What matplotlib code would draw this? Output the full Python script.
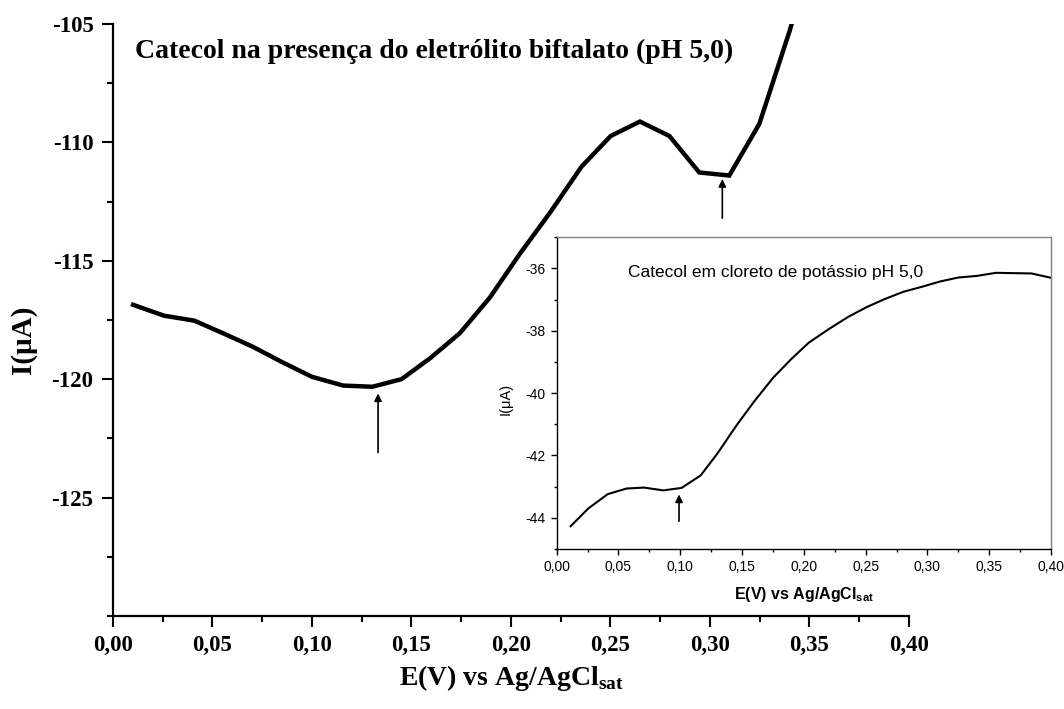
import matplotlib
matplotlib.use("Agg")
import matplotlib.pyplot as plt
from matplotlib.ticker import MultipleLocator, FuncFormatter


# curva principal: eletrólito biftalato (pH 5,0)
E_BIFT = [0.0101, 0.0257, 0.0409, 0.0550, 0.0700, 0.0850, 0.1000, 0.1157,
          0.1303, 0.1450, 0.1596, 0.1744, 0.1894, 0.2045, 0.2196, 0.2355,
          0.2501, 0.2648, 0.2796, 0.2946, 0.3097, 0.3248, 0.3400, 0.3550]
I_BIFT = [-116.86, -117.32, -117.53, -118.05, -118.62, -119.28, -119.90,
          -120.27, -120.32, -120.00, -119.10, -118.05, -116.55, -114.70,
          -112.97, -111.02, -109.73, -109.12, -109.73, -111.27, -111.40,
          -109.22, -105.30, -101.00]

# inset: cloreto de potássio (pH 5,0)
E_KCL = [0.0113, 0.0256, 0.0413, 0.0566, 0.0706, 0.0863, 0.1011, 0.1165,
         0.1300, 0.1456, 0.1599, 0.1753, 0.1900, 0.2040, 0.2200, 0.2360,
         0.2508, 0.2655, 0.2804, 0.2953, 0.3100, 0.3250, 0.3398, 0.3554,
         0.3700, 0.3843, 0.4000]
I_KCL = [-44.27, -43.70, -43.24, -43.06, -43.03, -43.12, -43.04, -42.64,
         -41.94, -41.03, -40.26, -39.50, -38.90, -38.38, -37.95, -37.55,
         -37.24, -36.98, -36.75, -36.59, -36.42, -36.29, -36.24, -36.14,
         -36.15, -36.16, -36.30]

# setas (E, I_inicio, I_fim)
SETAS_BIFT = [(0.1332, -123.1, -120.6), (0.3062, -113.2, -111.55)]
SETAS_KCL = [(0.0990, -44.11, -43.25)]

SERIF = "Liberation Serif"
SANS = "Liberation Sans"

plt.rcParams["mathtext.fontset"] = "custom"
plt.rcParams["mathtext.bf"] = "Liberation Serif:bold"
plt.rcParams["mathtext.sf"] = "Liberation Sans:bold"


def virgula(fmt):
    return FuncFormatter(lambda v, pos: (fmt % v).replace(".", ","))


def main():
    fig = plt.figure(figsize=(10.64, 7.09), dpi=100)

    # ---- grafico principal ----
    ax = fig.add_axes([0.1062, 0.1312, 0.7481, 0.835])
    ax.plot(E_BIFT, I_BIFT, color="black", lw=3.2, solid_joinstyle="miter")
    ax.set_xlim(0, 0.40)
    ax.set_ylim(-130, -105)
    for s in ["top", "right"]:
        ax.spines[s].set_visible(False)
    for s in ["left", "bottom"]:
        ax.spines[s].set_linewidth(1.6)

    ax.xaxis.set_major_locator(MultipleLocator(0.05))
    ax.xaxis.set_minor_locator(MultipleLocator(0.025))
    ax.set_yticks([-125, -120, -115, -110, -105])
    ax.yaxis.set_minor_locator(MultipleLocator(2.5))
    ax.xaxis.set_major_formatter(virgula("%.2f"))
    ax.yaxis.set_major_formatter(FuncFormatter(lambda v, pos: "%d" % v))
    ax.tick_params(which="major", direction="out", length=8, width=1.5, pad=6)
    ax.tick_params(which="minor", direction="out", length=4.5, width=1.5)
    for lab in ax.get_xticklabels() + ax.get_yticklabels():
        lab.set_fontfamily(SERIF)
        lab.set_fontweight("bold")
        lab.set_fontsize(16.5)

    ax.set_xlabel(r"E(V) vs Ag/AgCl$_{\mathbf{sat}}$", fontfamily=SERIF,
                  fontweight="bold", fontsize=20)
    ax.set_ylabel("I(\u03bcA)", fontfamily=SERIF, fontweight="bold", fontsize=21)
    ax.xaxis.set_label_coords(0.5, -0.08)
    ax.yaxis.set_label_coords(-0.096, 0.466)

    ax.text(0.0276, 0.9426, "Catecol na presença do eletrólito biftalato (pH 5,0)",
            transform=ax.transAxes, fontfamily=SERIF, fontweight="bold",
            fontsize=20, va="baseline", ha="left")

    for e, i0, i1 in SETAS_BIFT:
        ax.annotate("", xy=(e, i1), xytext=(e, i0),
                    arrowprops=dict(arrowstyle="-|>", color="black", lw=1.2,
                                    mutation_scale=11, shrinkA=0, shrinkB=0))

    # ---- inset ----
    axi = fig.add_axes([0.5232, 0.2257, 0.4646, 0.4396])
    axi.plot(E_KCL, I_KCL, color="black", lw=1.5)
    axi.set_xlim(0, 0.40)
    axi.set_ylim(-45, -35)
    for s in ["top", "right"]:
        axi.spines[s].set_color("#808080")
        axi.spines[s].set_linewidth(1.0)
    for s in ["left", "bottom"]:
        axi.spines[s].set_linewidth(1.0)

    axi.xaxis.set_major_locator(MultipleLocator(0.05))
    axi.xaxis.set_minor_locator(MultipleLocator(0.025))
    axi.set_yticks([-44, -42, -40, -38, -36])
    axi.yaxis.set_minor_locator(MultipleLocator(1))
    axi.xaxis.set_major_formatter(virgula("%.2f"))
    axi.yaxis.set_major_formatter(FuncFormatter(lambda v, pos: "%d" % v))
    axi.tick_params(which="major", direction="out", length=4, width=1.0, pad=4)
    axi.tick_params(which="minor", direction="out", length=2.5, width=1.0)
    for lab in axi.get_xticklabels() + axi.get_yticklabels():
        lab.set_fontfamily(SANS)
        lab.set_fontsize(10)

    axi.set_xlabel(r"E(V) vs Ag/AgCl$_{\mathsf{sat}}$", fontfamily=SANS,
                   fontweight="bold", fontsize=11.5)
    axi.set_ylabel("I(\u03bcA)", fontfamily=SANS, fontsize=10.5)
    axi.xaxis.set_label_coords(0.5, -0.115)
    axi.yaxis.set_label_coords(-0.09, 0.48)

    axi.text(0.1436, 0.8736, "Catecol em cloreto de potássio pH 5,0",
             transform=axi.transAxes, fontfamily=SANS, fontsize=12.5,
             va="baseline", ha="left")

    for e, i0, i1 in SETAS_KCL:
        axi.annotate("", xy=(e, i1), xytext=(e, i0),
                     arrowprops=dict(arrowstyle="-|>", color="black", lw=1.2,
                                     mutation_scale=11, shrinkA=0, shrinkB=0))

    fig.savefig("out.png", dpi=100)


if __name__ == "__main__":
    main()
